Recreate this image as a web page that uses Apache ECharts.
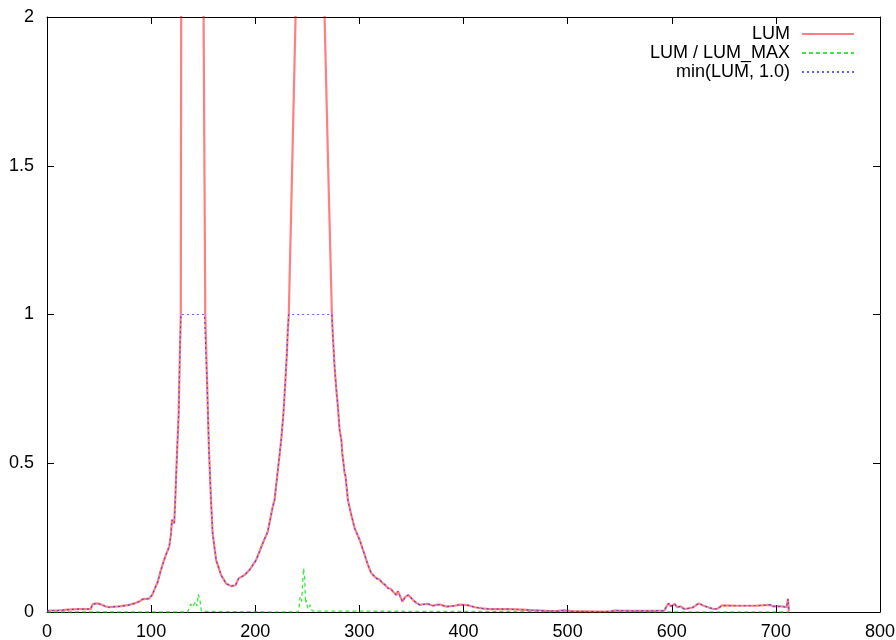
<!DOCTYPE html>
<html>
<head>
<meta charset="utf-8">
<script src="https://cdn.jsdelivr.net/npm/echarts@6/dist/echarts.min.js"></script>
<style>html,body{margin:0;padding:0;background:#fff;}#c{width:896px;height:640px;}</style>
</head>
<body>
<div id="c"></div>
<script>
// ---- data ----
const seriesNames = ['LUM', 'LUM / LUM_MAX', 'min(LUM, 1.0)'];
const xTicks = [0, 100, 200, 300, 400, 500, 600, 700, 800];
const yTicks = [0, 0.5, 1, 1.5, 2];

const lumX = [
  0, 5, 10, 15, 20, 25, 30, 35, 40, 42, 43.6, 46, 48.4, 52, 56, 59.7, 65, 70, 75.7, 80,
  85, 88.5, 92, 95, 98, 101, 104.6, 106, 109.4, 112, 114.2, 117.4, 119, 120, 121.3, 122.2,
  123.2, 124.8, 126.4, 127.5, 128.5, 129, 131, 135, 140, 145, 149, 150.4, 151.2, 152,
  154, 155.5, 157.5, 159.1, 162.4, 167.2, 172, 176.8, 181, 184.1, 189.6, 194.4, 200.9,
  207.2, 212, 216.8, 218.5, 220.7, 224.9, 227.1, 229, 230.3, 231.3, 232.2, 235.5, 238.7,
  240, 244, 248, 252, 258, 263, 266.6, 270, 273.6, 274.6, 276.2, 277.9, 279.4, 281,
  282.7, 283.6, 285.9, 286.8, 289, 292, 295.5, 300.3, 305.1, 308, 311.5, 316.4, 319,
  322.7, 325, 327.5, 330, 332.4, 335.6, 337, 338.8, 341.4, 344, 346.8, 349, 351.6, 355,
  358, 362, 366, 370.8, 374, 377.3, 383.7, 391.7, 396.5, 400, 405, 411, 418, 425, 442,
  456, 465, 480, 490, 497, 505, 515, 530, 541, 545, 560, 580, 593, 595, 597, 599, 602.8,
  605, 608.6, 612, 616, 620, 625.9, 630, 634, 640, 644, 648.4, 660, 680, 694.9, 697,
  705.6, 710.3, 711.6, 712.5
];
const lum = [
  0.004, 0.005, 0.005, 0.006, 0.008, 0.009, 0.01, 0.01, 0.01, 0.01, 0.025, 0.028, 0.029, 0.025, 0.019, 0.016, 0.018, 0.019, 0.022, 0.025,
  0.03, 0.035, 0.043, 0.044, 0.045, 0.057, 0.088, 0.097, 0.141, 0.17, 0.192, 0.22, 0.26, 0.31, 0.31, 0.298,
  0.38, 0.53, 0.66, 0.85, 1.0, 2.4, 3.2, 4.0, 4.5, 6.0, 3.5, 2.0, 1.5, 1.0,
  0.74, 0.55, 0.376, 0.264, 0.175, 0.124, 0.096, 0.087, 0.09, 0.113, 0.124, 0.141, 0.175,
  0.231, 0.27, 0.354, 0.376, 0.444, 0.578, 0.668, 0.78, 0.864, 0.948, 1.0, 1.5, 2.0,
  2.3, 4.0, 8.0, 5.0, 4.0, 3.0, 2.0, 1.5, 1.0, 0.925, 0.824, 0.746, 0.69, 0.612,
  0.578, 0.533, 0.466, 0.455, 0.376, 0.33, 0.281, 0.242, 0.192, 0.16, 0.13, 0.113, 0.11,
  0.096, 0.09, 0.08, 0.078, 0.068, 0.057, 0.07, 0.068, 0.035, 0.05, 0.057, 0.05, 0.04, 0.03,
  0.024, 0.026, 0.027, 0.021, 0.024, 0.025, 0.018, 0.021, 0.025, 0.024, 0.022, 0.016, 0.012, 0.01, 0.01,
  0.008, 0.006, 0.004, 0.003, 0.006, 0.002, 0.002, 0.001, 0.002, 0.005, 0.004, 0.004, 0.005, 0.019, 0.029, 0.019, 0.027,
  0.016, 0.019, 0.01, 0.012, 0.015, 0.029, 0.022, 0.017, 0.01, 0.011, 0.022, 0.021, 0.021, 0.024, 0.019,
  0.019, 0.016, 0.044, 0.002
];

const ratioX = [0, 135, 136.7, 138.3, 140, 142.6, 144, 145.3, 146.9, 147.9, 148.6, 150, 241, 241.9, 243, 244.5, 246.4, 247.4, 248.3, 249, 250.5, 252.8, 254.8, 256, 712.5];
const ratio  = [0, 0, 0.002, 0.027, 0.017, 0.035, 0.02, 0.06, 0.04, 0.01, 0.002, 0, 0, 0.007, 0.05, 0.035, 0.147, 0.12, 0.03, 0.04, 0.01, 0.024, 0.003, 0, 0];

// min(LUM, 1.0) as named in the legend
const lumClipped = lum.map(v => Math.min(v, 1.0));

const chart = echarts.init(document.getElementById('c'), null, {renderer: 'canvas'});
const font = 'Liberation Sans, Arial, sans-serif';
const pair = (xs, ys) => xs.map((x, i) => [x, ys[i]]);

const axisBase = {
  type: 'value',
  splitLine: {show: false},
  axisLine: {show: true, onZero: false, lineStyle: {color: '#000', width: 1}},
  axisTick: {show: true, inside: true, length: 7, lineStyle: {color: '#000', width: 1}},
  axisLabel: {color: '#000', fontFamily: font, fontSize: 18}
};

chart.setOption({
  animation: false,
  backgroundColor: '#fff',
  grid: {left: 47, right: 16, top: 17, bottom: 28, containLabel: false, outerBoundsMode: 'none'},
  legend: {
    orient: 'vertical',
    align: 'right',
    right: 41,
    top: 25,
    padding: 0,
    itemWidth: 52,
    itemHeight: 14,
    itemGap: 1,
    data: seriesNames,
    itemStyle: {opacity: 0},
    textStyle: {color: '#000', fontFamily: font, fontSize: 18, lineHeight: 14, padding: [0, 7, 0, 0]}
  },
  xAxis: [
    Object.assign({}, axisBase, {position: 'bottom', min: xTicks[0], max: xTicks[xTicks.length - 1], interval: 100,
      axisLabel: Object.assign({}, axisBase.axisLabel, {margin: 11})}),
    Object.assign({}, axisBase, {position: 'top', min: xTicks[0], max: xTicks[xTicks.length - 1], interval: 100,
      axisLabel: {show: false}})
  ],
  yAxis: [
    Object.assign({}, axisBase, {position: 'left', min: yTicks[0], max: yTicks[yTicks.length - 1], interval: 0.5,
      axisLabel: Object.assign({}, axisBase.axisLabel, {margin: 13})}),
    Object.assign({}, axisBase, {position: 'right', min: yTicks[0], max: yTicks[yTicks.length - 1], interval: 0.5,
      axisLabel: {show: false}})
  ],
  series: [
    {
      name: seriesNames[0], type: 'line', symbol: 'none', clip: true,
      data: pair(lumX, lum),
      lineStyle: {color: 'rgba(255,0,0,0.5)', width: 2.2},
      itemStyle: {color: 'rgba(255,0,0,0.5)'}
    },
    {
      name: seriesNames[1], type: 'line', symbol: 'none', clip: true,
      data: pair(ratioX, ratio),
      lineStyle: {color: 'rgba(0,220,0,0.75)', width: 1.3, type: [4, 3]},
      itemStyle: {color: 'rgba(0,220,0,0.75)'}
    },
    {
      name: seriesNames[2], type: 'line', symbol: 'none', clip: true,
      data: pair(lumX, lumClipped),
      lineStyle: {color: 'rgba(40,40,255,0.75)', width: 1.2, type: [2, 3]},
      itemStyle: {color: 'rgba(40,40,255,0.75)'}
    }
  ]
});
</script>
</body>
</html>
